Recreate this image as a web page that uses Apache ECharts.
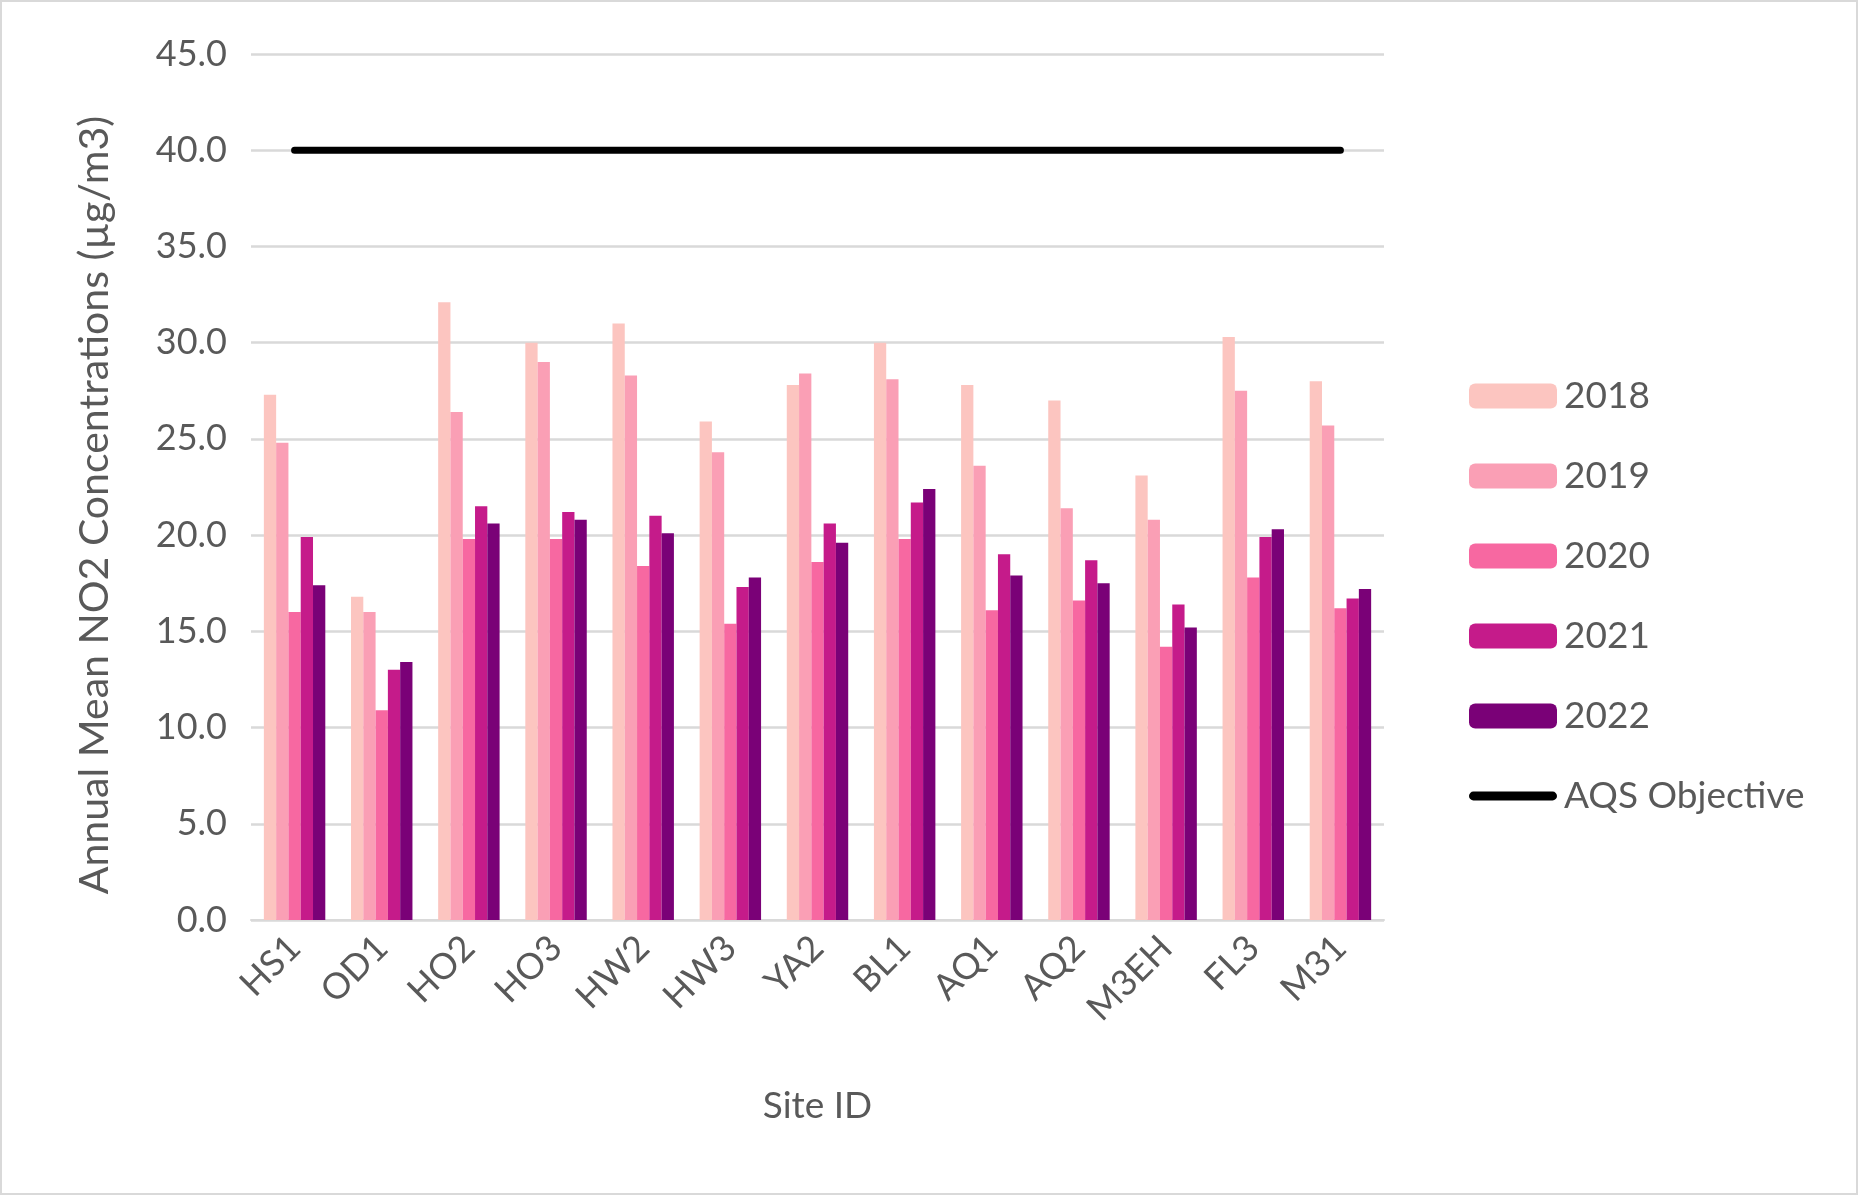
<!DOCTYPE html>
<html>
<head>
<meta charset="utf-8">
<script src="https://cdn.jsdelivr.net/npm/echarts@6/dist/echarts.min.js"></script>
<style>
  html, body { margin: 0; padding: 0; background: #fff; }
  #chart { width: 1858px; height: 1195px; box-sizing: border-box; border: 2px solid #d9d9d9; }
</style>
</head>
<body>
<div id="chart"></div>
<script>
// Annual mean NO2 by site, 2018-2022, vs the 40 µg/m3 AQS objective
const SITES = ["HS1", "OD1", "HO2", "HO3", "HW2", "HW3", "YA2", "BL1", "AQ1", "AQ2", "M3EH", "FL3", "M31"];
const Y2018 = [27.3, 16.8, 32.1, 30.0, 31.0, 25.9, 27.8, 30.0, 27.8, 27.0, 23.1, 30.3, 28.0];
const Y2019 = [24.8, 16.0, 26.4, 29.0, 28.3, 24.3, 28.4, 28.1, 23.6, 21.4, 20.8, 27.5, 25.7];
const Y2020 = [16.0, 10.9, 19.8, 19.8, 18.4, 15.4, 18.6, 19.8, 16.1, 16.6, 14.2, 17.8, 16.2];
const Y2021 = [19.9, 13.0, 21.5, 21.2, 21.0, 17.3, 20.6, 21.7, 19.0, 18.7, 16.4, 19.9, 16.7];
const Y2022 = [17.4, 13.4, 20.6, 20.8, 20.1, 17.8, 19.6, 22.4, 17.9, 17.5, 15.2, 20.3, 17.2];
const AQS_OBJECTIVE = [40, 40, 40, 40, 40, 40, 40, 40, 40, 40, 40, 40, 40];

const YEARS = [
  { name: "2018", data: Y2018, color: "#fcc5c0" },
  { name: "2019", data: Y2019, color: "#fa9fb5" },
  { name: "2020", data: Y2020, color: "#f768a1" },
  { name: "2021", data: Y2021, color: "#c51b8a" },
  { name: "2022", data: Y2022, color: "#7a0177" },
];

const FONT = "Lato, 'Open Sans', sans-serif";
const TXT = "#595959";
const GRID_CLR = "#d9d9d9";
// pill-shaped legend mark for the objective line (thick line, round caps)
const PILL = "path://M5,0 L95,0 A5,5 0 0 1 95,10 L5,10 A5,5 0 0 1 5,0 Z";

const chart = echarts.init(document.getElementById("chart"));

const series = YEARS.map(y => ({
  name: y.name, type: "bar", data: y.data,
  barGap: "0%", barCategoryGap: "29.5%",
  itemStyle: { color: y.color },
}));
series.push({
  name: "AQS Objective", type: "line", data: AQS_OBJECTIVE,
  symbol: "none", z: 5,
  itemStyle: { color: "#000" },
  lineStyle: { color: "#000", width: 7, cap: "round" },
});

chart.setOption({
  backgroundColor: "#fff", animation: false,
  textStyle: { fontFamily: FONT },
  grid: { left: 249, right: 472, top: 52, bottom: 273, containLabel: false },
  xAxis: {
    type: "category", data: SITES,
    name: "Site ID", nameLocation: "middle", nameGap: 168,
    nameTextStyle: { color: TXT, fontSize: 37, fontFamily: FONT },
    axisLine: { lineStyle: { color: GRID_CLR, width: 2 } },
    axisTick: { show: false },
    axisLabel: { color: TXT, fontSize: 36, rotate: 45, margin: 22, fontFamily: FONT },
  },
  yAxis: {
    type: "value", min: 0, max: 45, interval: 5,
    name: "Annual Mean NO2 Concentrations (µg/m3)", nameLocation: "middle", nameGap: 136,
    nameTextStyle: { color: TXT, fontSize: 41, fontFamily: FONT, padding: [0, 36, 0, 0] },
    axisLine: { show: false }, axisTick: { show: false },
    axisLabel: { color: TXT, fontSize: 36, margin: 24, fontFamily: FONT, formatter: v => v.toFixed(1) },
    splitLine: { lineStyle: { color: GRID_CLR, width: 2.5 } },
  },
  legend: {
    orient: "vertical", left: 1462, top: 369,
    itemWidth: 88, itemHeight: 25, itemGap: 40,
    data: ["2018", "2019", "2020", "2021", "2022",
      { name: "AQS Objective", icon: PILL, itemStyle: { color: "#000" } }],
    textStyle: { color: TXT, fontSize: 37, lineHeight: 40, fontFamily: FONT, padding: [0, 0, 0, 2] },
  },
  series,
});
</script>
</body>
</html>
